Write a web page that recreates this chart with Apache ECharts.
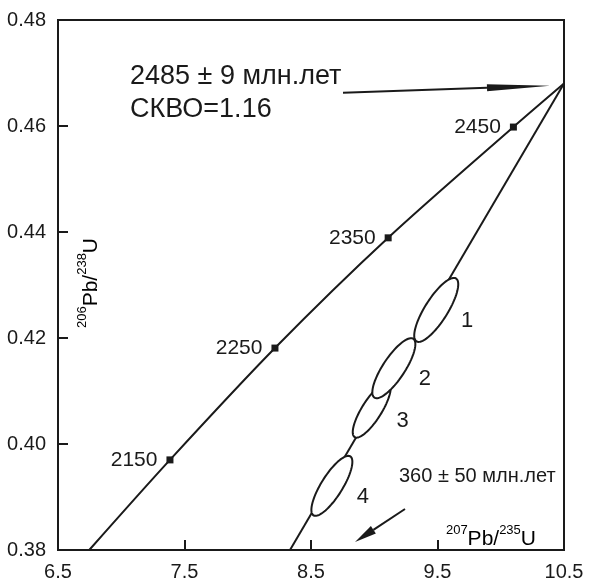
<!DOCTYPE html>
<html>
<head>
<meta charset="utf-8">
<title>Concordia</title>
<script src="https://cdn.jsdelivr.net/npm/echarts@6/dist/echarts.min.js"></script>
<style>
  html, body { margin: 0; padding: 0; background: #fff; }
  #chart { width: 589px; height: 583px; }
</style>
</head>
<body>
<div id="chart"></div>
<script>
// 207Pb/235U on x, 206Pb/238U on y
const xTicks = [6.5, 7.5, 8.5, 9.5, 10.5];
const yTicks = [0.38, 0.40, 0.42, 0.44, 0.46, 0.48];

// concordia curve and its age marks (Ma)
const concordia = [[6.747, 0.38], [7.385, 0.397], [8.215, 0.4181], [9.11, 0.4389], [10.1, 0.4598], [10.5, 0.468]];
const ageX = [7.385, 8.215, 9.11, 10.1];
const ageY = [0.397, 0.4181, 0.4389, 0.4598];
const ageNames = ['2150', '2250', '2350', '2450'];

// discordia through the upper intercept
const discordia = [[8.334, 0.38], [10.5, 0.468]];

// error ellipses: centre, sigma x, sigma y, correlation
const ellX = [9.49, 9.155, 8.98, 8.665];
const ellY = [0.4253, 0.4143, 0.4064, 0.3921];
const ellSx = [0.174, 0.17, 0.15, 0.162];
const ellSy = [0.00604, 0.00566, 0.0052, 0.00566];
const ellRho = [0.8, 0.8, 0.8, 0.8];
const ellNames = ['1', '2', '3', '4'];

// annotation arrows (from -> to)
const arrowFrom = [[8.753, 0.46628], [9.243, 0.38774]];
const arrowTo = [[10.389, 0.4676], [8.848, 0.38151]];
const arrowHead = [[63, 3.5], [22, 4.5]];

const INK = '#1a1a1a';
const FONT = '"Liberation Sans", Arial, sans-serif';

const chart = echarts.init(document.getElementById('chart'));

const supRich = {
  sup: { fontSize: 13, fontFamily: FONT, color: INK, verticalAlign: 'top', lineHeight: 12 },
  b: { fontSize: 21, fontFamily: FONT, color: INK, verticalAlign: 'bottom', lineHeight: 26 }
};

chart.setOption({
  animation: false,
  grid: { left: 58, right: 25, top: 20, bottom: 33, show: true, borderColor: INK, borderWidth: 2 },
  xAxis: {
    type: 'value',
    min: xTicks[0],
    max: xTicks[xTicks.length - 1],
    interval: 1,
    splitLine: { show: false },
    axisLine: { lineStyle: { color: INK, width: 2 } },
    axisTick: { inside: true, length: 10, lineStyle: { color: INK, width: 2 } },
    axisLabel: { color: INK, fontSize: 20, fontFamily: FONT, margin: 12, formatter: v => String(v) }
  },
  yAxis: {
    type: 'value',
    min: yTicks[0],
    max: yTicks[yTicks.length - 1],
    interval: 0.02,
    splitLine: { show: false },
    axisLine: { lineStyle: { color: INK, width: 2 } },
    axisTick: { inside: true, length: 10, lineStyle: { color: INK, width: 2 } },
    axisLabel: { color: INK, fontSize: 20, fontFamily: FONT, margin: 12, formatter: v => v.toFixed(2) }
  },
  graphic: [
    { type: 'text', x: 130, y: 77, style: { text: '2485 ± 9 млн.лет', fontSize: 27, fontFamily: FONT, fill: INK, verticalAlign: 'middle' } },
    { type: 'text', x: 130, y: 110, style: { text: 'СКВО=1.16', fontSize: 27, fontFamily: FONT, fill: INK, verticalAlign: 'middle' } },
    { type: 'text', x: 399, y: 476, style: { text: '360 ± 50 млн.лет', fontSize: 20, fontFamily: FONT, fill: INK, verticalAlign: 'middle' } },
    { type: 'text', x: 536, y: 550, style: { text: '{sup|207}{b|Pb/}{sup|235}{b|U}', rich: supRich, align: 'right', verticalAlign: 'bottom' } },
    { type: 'text', x: 89, y: 283, rotation: Math.PI / 2, style: { text: '{sup|206}{b|Pb/}{sup|238}{b|U}', rich: supRich, align: 'center', verticalAlign: 'middle' } }
  ],
  series: [
    {
      type: 'line',
      data: concordia,
      smooth: 0.3,
      symbol: 'none',
      lineStyle: { color: INK, width: 2 },
      z: 2
    },
    {
      type: 'line',
      data: discordia,
      symbol: 'none',
      lineStyle: { color: INK, width: 2 },
      z: 2
    },
    {
      type: 'scatter',
      data: ageX.map((x, i) => [x, ageY[i]]),
      symbol: 'rect',
      symbolSize: 7,
      itemStyle: { color: INK, opacity: 1 },
      label: {
        show: true,
        position: 'left',
        distance: 9,
        color: INK,
        fontSize: 21,
        fontFamily: FONT,
        formatter: p => ageNames[p.dataIndex]
      },
      z: 4
    },
    {
      type: 'custom',
      data: ellX.map((x, i) => [x, ellY[i], ellSx[i], ellSy[i], ellRho[i]]),
      encode: { x: 0, y: 1 },
      z: 3,
      renderItem: (params, api) => {
        const cx = api.value(0), cy = api.value(1);
        const sx = api.value(2), sy = api.value(3), rho = api.value(4);
        const pts = [];
        for (let k = 0; k < 90; k++) {
          const t = k / 90 * Math.PI * 2;
          pts.push(api.coord([
            cx + sx * Math.cos(t),
            cy + sy * (rho * Math.cos(t) + Math.sqrt(1 - rho * rho) * Math.sin(t))
          ]));
        }
        const c = api.coord([cx, cy]);
        const n = params.dataIndex;
        return {
          type: 'group',
          children: [
            { type: 'polygon', z2: 20 - n, shape: { points: pts }, style: { fill: '#fff', stroke: INK, lineWidth: 2 } },
            { type: 'text', z2: 30, x: c[0] + 31, y: c[1] + 11,
              style: { text: ellNames[n], fontSize: 22, fontFamily: FONT, fill: INK, align: 'center', verticalAlign: 'middle' } }
          ]
        };
      }
    },
    {
      type: 'custom',
      data: arrowFrom.map((a, i) => [a[0], a[1], arrowTo[i][0], arrowTo[i][1]]),
      encode: { x: [0, 2], y: [1, 3] },
      z: 5,
      renderItem: (params, api) => {
        const p0 = api.coord([api.value(0), api.value(1)]);
        const p1 = api.coord([api.value(2), api.value(3)]);
        const hd = arrowHead[params.dataIndex];
        const dx = p1[0] - p0[0], dy = p1[1] - p0[1];
        const len = Math.sqrt(dx * dx + dy * dy);
        const ux = dx / len, uy = dy / len;
        const bx = p1[0] - ux * hd[0], by = p1[1] - uy * hd[0];
        return {
          type: 'group',
          children: [
            { type: 'line', shape: { x1: p0[0], y1: p0[1], x2: bx, y2: by }, style: { stroke: INK, lineWidth: 2 } },
            { type: 'polygon', shape: { points: [
              [p1[0], p1[1]],
              [bx - uy * hd[1], by + ux * hd[1]],
              [bx + uy * hd[1], by - ux * hd[1]]
            ] }, style: { fill: INK } }
          ]
        };
      }
    }
  ]
});
</script>
</body>
</html>
